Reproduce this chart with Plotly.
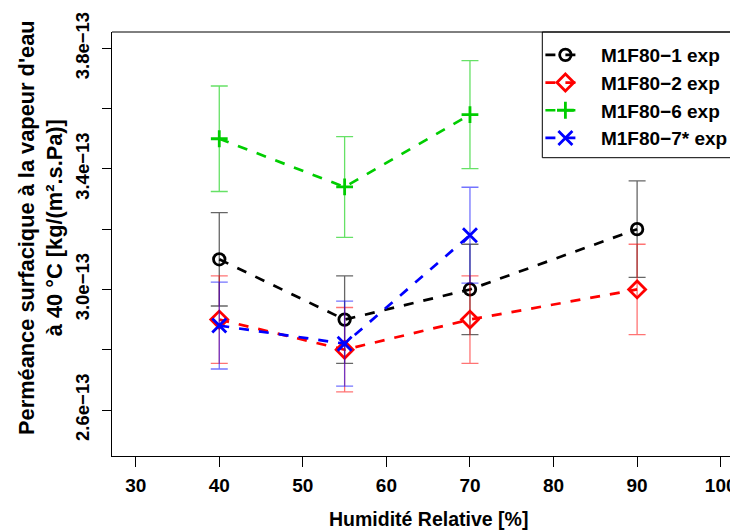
import plotly.graph_objects as go

# ---- data ----
hr_all = [40, 55, 70, 90]
hr_three = [40, 55, 70]

m1_val = [3.10e-13, 2.90e-13, 3.00e-13, 3.20e-13]
m1_err = [0.155e-13, 0.145e-13, 0.150e-13, 0.160e-13]

m2_val = [2.90e-13, 2.80e-13, 2.90e-13, 3.00e-13]
m2_err = [0.145e-13, 0.140e-13, 0.145e-13, 0.150e-13]

m6_val = [3.50e-13, 3.34e-13, 3.58e-13]
m6_err = [0.175e-13, 0.167e-13, 0.179e-13]

m7_val = [2.88e-13, 2.82e-13, 3.18e-13]
m7_err = [0.144e-13, 0.141e-13, 0.159e-13]

names = ["M1F80−1 exp", "M1F80−2 exp", "M1F80−6 exp", "M1F80−7* exp"]

x_ticks = [30, 40, 50, 60, 70, 80, 90, 100]
y_ticks = [2.6e-13, 2.8e-13, 3.0e-13, 3.2e-13, 3.4e-13, 3.6e-13, 3.8e-13]
y_ticktext = ["2.6e−13", "", "3.0e−13", "", "3.4e−13", "", "3.8e−13"]

FONT = "Liberation Sans, Arial, sans-serif"
W, H = 738, 531
# the page body adds an 8px offset; plot area is placed in figure pixels
ML, MT, MB, MR = 104, 24, 83, 0
PW = W - ML - MR
PH = H - MT - MB


def px(xfig):
    return (xfig - ML) / PW


def py(yfig):
    return (H - MB - yfig) / PH


series = [
    (hr_all, m1_val, m1_err, names[0], "#000000", "rgba(0,0,0,0.6)", "circle-open", 11.5),
    (hr_all, m2_val, m2_err, names[1], "#FF0000", "rgba(255,0,0,0.55)", "diamond-open", 13),
    (hr_three, m6_val, m6_err, names[2], "#00CD00", "rgba(0,205,0,0.6)", "cross-thin-open", 12),
    (hr_three, m7_val, m7_err, names[3], "#0000FF", "rgba(0,0,255,0.55)", "x-thin-open", 14),
]

fig = go.Figure()
for xs, ys, es, nm, col, ecol, sym, sz in series:
    fig.add_trace(go.Scatter(
        x=xs, y=ys, name="\u00a0\u00a0" + nm, mode="lines+markers",
        line=dict(color=col, width=2.7, dash="10px,10px"),
        marker=dict(symbol=sym, size=sz, color=col, line=dict(color=col, width=2.8)),
        error_y=dict(type="data", array=es, visible=True, color=ecol,
                     thickness=1.3, width=8.5),
    ))

fig.update_layout(
    width=W, height=H,
    margin=dict(l=ML, r=MR, t=MT, b=MB, pad=0),
    paper_bgcolor="white", plot_bgcolor="white",
    font=dict(family=FONT, size=19, color="black", weight="bold"),
    showlegend=True,
    legend=dict(
        x=px(532.4), y=0.9906, xanchor="left", yanchor="top",
        bgcolor="rgba(0,0,0,0)", borderwidth=0,
        font=dict(family=FONT, size=19, color="black", weight="bold"),
        itemwidth=40, tracegroupgap=0,
    ),
    xaxis=dict(
        range=[27.164, 103.03], tickmode="array", tickvals=x_ticks,
        ticks="outside", ticklen=10, tickwidth=1, tickcolor="black",
        showline=True, linecolor="black", linewidth=1, mirror=False,
        showgrid=False, zeroline=False,
        tickfont=dict(family=FONT, size=19, color="black", weight="bold"),
        ticklabelstandoff=2,
    ),
    yaxis=dict(
        range=[2.4474e-13, 3.8541e-13], tickmode="array", tickvals=y_ticks,
        ticktext=y_ticktext, tickangle=-90,
        ticks="outside", ticklen=9, tickwidth=1, tickcolor="black",
        showline=True, linecolor="black", linewidth=1, mirror=False,
        showgrid=False, zeroline=False,
        tickfont=dict(family=FONT, size=18.5, color="black", weight="bold"),
        ticklabelstandoff=6,
    ),
    shapes=[
        # top edge of the plot box
        dict(type="line", xref="paper", yref="paper", x0=0, x1=1, y0=1, y1=1,
             line=dict(color="black", width=1)),
        # legend box
        dict(type="rect", xref="paper", yref="paper",
             x0=px(534.3), x1=1.05,
             y0=py(149.7), y1=1,
             line=dict(color="black", width=1), fillcolor="rgba(0,0,0,0)"),
    ],
    annotations=[
        dict(text="Humidité Relative [%]", xref="paper", yref="paper",
             x=px(420), y=py(511),
             xanchor="center", yanchor="middle", showarrow=False,
             font=dict(family=FONT, size=19.5, color="black", weight="bold")),
        dict(text="Perméance surfacique à la vapeur d'eau<br>à 40 °C [kg/(m².s.Pa)]",
             xref="paper", yref="paper",
             x=px(32.5), y=py(219.5),
             xanchor="center", yanchor="middle", showarrow=False, textangle=-90,
             font=dict(family=FONT, size=21.8, color="black", weight="bold")),
    ],
)

fig.write_html("out.html")
